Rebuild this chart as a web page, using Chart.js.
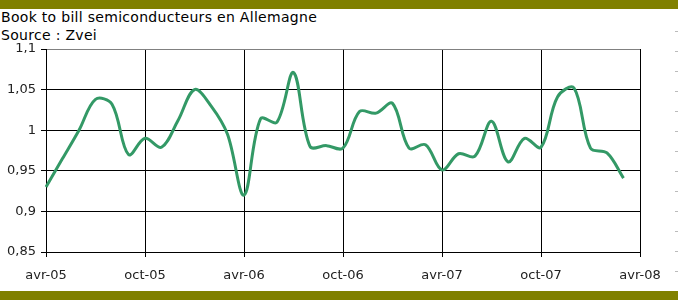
<!DOCTYPE html>
<html>
<head>
<meta charset="utf-8">
<script src="https://cdn.jsdelivr.net/npm/chart.js@4/dist/chart.umd.min.js"></script>
<style>
  body { margin: 0; background: #fff; }
  #wrap { position: relative; width: 678px; height: 300px; overflow: hidden; }
  .band { position: absolute; left: 0; width: 678px; height: 9px; background: #808000; }
  #title { position: absolute; left: 1px; top: 8px; font: 14px "DejaVu Sans", Tahoma, sans-serif; letter-spacing: 0.3px; line-height: 18px; color: #000; }
  #ruler { position: absolute; left: 675px; top: 31px; width: 3px; height: 242px;
           background: repeating-linear-gradient(to bottom, #bbb 0, #bbb 1px, transparent 1px, transparent 20px); }
  canvas { position: absolute; left: 0; top: 0; }
</style>
</head>
<body>
<div id="wrap">
  <div class="band" style="top:0"></div>
  <div id="title">Book to bill semiconducteurs en Allemagne<br>Source : Zvei</div>
  <div id="ruler"></div>
  <canvas id="chart" width="678" height="300"></canvas>
  <div class="band" style="top:291px"></div>
</div>
<script>
document.addEventListener('DOMContentLoaded', () => {
    // monthly labels, avr-05 .. avr-08
    const months = [
        'avr-05', 'mai-05', 'juin-05', 'juil-05', 'août-05', 'sept-05',
        'oct-05', 'nov-05', 'déc-05', 'janv-06', 'févr-06', 'mars-06',
        'avr-06', 'mai-06', 'juin-06', 'juil-06', 'août-06', 'sept-06',
        'oct-06', 'nov-06', 'déc-06', 'janv-07', 'févr-07', 'mars-07',
        'avr-07', 'mai-07', 'juin-07', 'juil-07', 'août-07', 'sept-07',
        'oct-07', 'nov-07', 'déc-07', 'janv-08', 'févr-08', 'mars-08',
        'avr-08'
    ];
    const shownLabels = ['avr-05', 'oct-05', 'avr-06', 'oct-06', 'avr-07', 'oct-07', 'avr-08'];

    // book to bill ratio
    const bookToBill = [
        0.93, 0.965, 1.0, 1.038, 1.032, 0.97,
        0.99, 0.979, 1.012, 1.05, 1.03, 0.995,
        0.92, 1.014, 1.01, 1.071, 0.98, 0.981,
        0.978, 1.023, 1.021, 1.033, 0.978, 0.982,
        0.951, 0.971, 0.968, 1.011, 0.961, 0.99,
        0.979, 1.041, 1.052, 0.978, 0.972, 0.941
    ];

    const yMin = 0.85, yMax = 1.1, yStep = 0.05;
    const font = { family: '"DejaVu Sans", Tahoma, sans-serif', size: 13 };

    new Chart(document.getElementById('chart'), {
        type: 'line',
        data: {
            labels: months,
            datasets: [{
                data: bookToBill,
                borderColor: '#339966',
                borderWidth: 3,
                pointRadius: 0,
                tension: 0.35,
                fill: false
            }]
        },
        options: {
            responsive: false,
            animation: false,
            layout: { padding: { top: 49, right: 38, bottom: 0, left: 0 } },
            plugins: { legend: { display: false }, tooltip: { enabled: false } },
            scales: {
                x: {
                    offset: false,
                    afterFit: (s) => { s.height = 48; },
                    grid: {
                        color: (c) => c.index === months.length - 1 ? '#808080' : '#000',
                        tickColor: '#000',
                        tickLength: 5,
                        lineWidth: 1
                    },
                    border: { color: '#000' },
                    ticks: {
                        autoSkip: false,
                        maxRotation: 0,
                        padding: 11,
                        color: '#222',
                        font: font,
                        callback: function (v, i) {
                            return shownLabels.includes(months[i]) ? months[i] : null;
                        }
                    }
                },
                y: {
                    min: yMin,
                    max: yMax,
                    afterFit: (s) => { s.width = 46; },
                    grid: {
                        color: (c) => Math.abs(c.tick.value - yMax) < 1e-6 ? '#808080' : '#000',
                        tickColor: '#000',
                        tickLength: 5
                    },
                    border: { color: '#000' },
                    ticks: {
                        stepSize: yStep,
                        padding: 5,
                        color: '#222',
                        font: font,
                        callback: (v) => String(Math.round(v * 100) / 100).replace('.', ',')
                    }
                }
            }
        }
    });
});
</script>
</body>
</html>
